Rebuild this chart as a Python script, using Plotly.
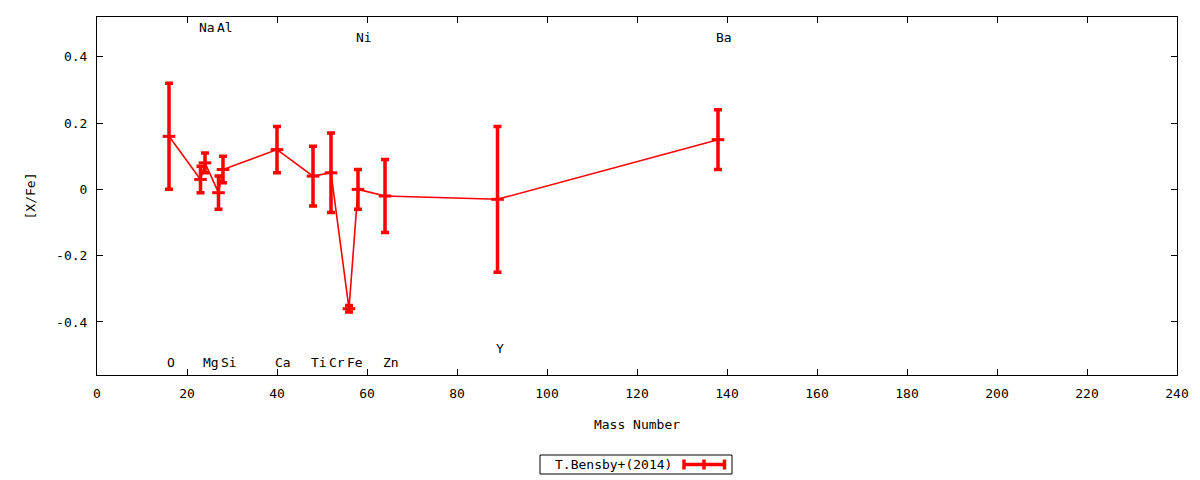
import plotly.graph_objects as go

# ---- data ----
elements = ["O", "Na", "Mg", "Al", "Si", "Ca", "Ti", "Cr", "Fe", "Ni", "Zn", "Y", "Ba"]
mass = [16, 23, 24, 27, 28, 40, 48, 52, 56, 58, 64, 89, 138]
xfe = [0.16, 0.03, 0.08, -0.01, 0.06, 0.12, 0.04, 0.05, -0.36, 0.00, -0.02, -0.03, 0.15]
err = [0.16, 0.04, 0.03, 0.05, 0.04, 0.07, 0.09, 0.12, 0.01, 0.06, 0.11, 0.22, 0.09]
label_y = [-0.523, 0.489, -0.523, 0.489, -0.523, -0.523, -0.523, -0.523, -0.523, 0.459, -0.523, -0.48, 0.459]
series_name = "T.Bensby+(2014)"
x_ticks = list(range(0, 241, 20))
y_ticks = [-0.4, -0.2, 0, 0.2, 0.4]
y_ticktext = ["-0.4", "-0.2", "0", "0.2", "0.4"]

FONT = "DejaVu Sans Mono"
RED = "#ff0000"

fig = go.Figure()
fig.add_trace(go.Scatter(
    x=mass, y=xfe, mode="lines+markers", name=series_name,
    line=dict(color=RED, width=1.6),
    marker=dict(symbol="line-ew", size=9, line=dict(color=RED, width=3)),
    error_y=dict(type="data", array=err, visible=True, color=RED, thickness=3.5, width=4),
    showlegend=False,
))

for el, m, ly in zip(elements, mass, label_y):
    fig.add_annotation(x=m, y=ly, xref="x", yref="y", text=el, showarrow=False,
                       xanchor="left", yanchor="middle", xshift=-4,
                       font=dict(family=FONT, size=13, color="black"))

# custom legend (text first, then sample) like gnuplot
def px2paper_x(px):
    return (px - 97) / 1080.0

def py2paper_y(py):
    return (375 - py) / 358.0

fig.add_shape(type="rect", xref="paper", yref="paper",
              x0=px2paper_x(540), x1=px2paper_x(732), y0=py2paper_y(474), y1=py2paper_y(455),
              line=dict(color="black", width=1), fillcolor="white")
fig.add_annotation(xref="paper", yref="paper", x=px2paper_x(674), y=py2paper_y(464.5),
                   text=series_name, showarrow=False, xanchor="right", yanchor="middle",
                   font=dict(family=FONT, size=13, color="black"))
ly = py2paper_y(464.5)
fig.add_shape(type="line", xref="paper", yref="paper", x0=px2paper_x(683), x1=px2paper_x(725.5),
              y0=ly, y1=ly, line=dict(color=RED, width=3.5))
for px in (684, 704, 724.5):
    fig.add_shape(type="line", xref="paper", yref="paper", x0=px2paper_x(px), x1=px2paper_x(px),
                  y0=py2paper_y(469.5), y1=py2paper_y(459.5), line=dict(color=RED, width=3.5))

axis_common = dict(showline=True, linecolor="black", linewidth=1, mirror="ticks",
                   ticks="inside", ticklen=6, tickcolor="black", showgrid=False, zeroline=False,
                   tickfont=dict(family=FONT, size=13, color="black"))

fig.update_xaxes(range=[0, 240], tickvals=x_ticks, ticktext=[str(v) for v in x_ticks],
                 title=dict(text="Mass Number", font=dict(family=FONT, size=13, color="black"), standoff=20),
                 ticklabelstandoff=6, **axis_common)
fig.update_yaxes(range=[-0.56, 0.52], tickvals=y_ticks, ticktext=y_ticktext,
                 title=dict(text="[X/Fe]", font=dict(family=FONT, size=13, color="black"), standoff=17),
                 ticklabelstandoff=6, **axis_common)

fig.update_layout(width=1200, height=480, margin=dict(l=97, r=23, t=17, b=105, autoexpand=False),
                  plot_bgcolor="white", paper_bgcolor="white",
                  font=dict(family=FONT, size=13, color="black"))

fig.write_html("out.html", config={"displayModeBar": False},
               post_script="document.body.style.margin='0px';document.body.style.overflow='hidden';")
